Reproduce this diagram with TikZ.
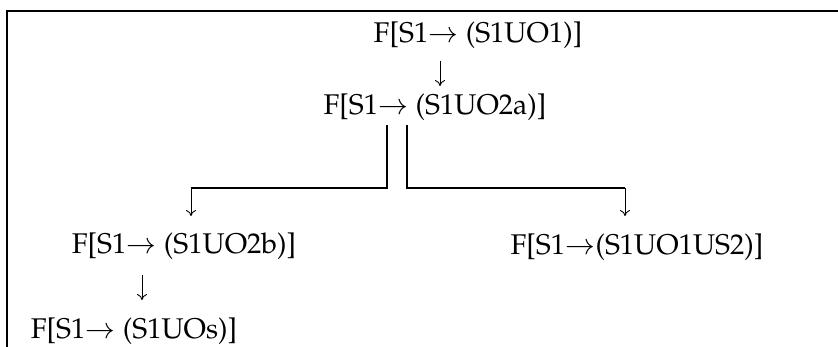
\documentclass[tikz,border=0pt]{standalone}
\usepackage[T1]{fontenc}
\usepackage{mathpazo}
\usetikzlibrary{arrows.meta}
\begin{document}
\begin{tikzpicture}[x=1pt,y=-1pt,
  term/.style={inner sep=0pt,anchor=center,font=\fontsize{28.5}{32}\selectfont},
  frameline/.style={line width=2.2pt},
  branch/.style={line width=1.4pt},
  flow/.style={line width=0.9pt,-{To[length=6pt,width=10pt]}}]
\useasboundingbox (0,0) rectangle (838,347);
% open frame: top and left edges only
\draw[frameline] (7,347) -- (7,11) -- (838,11);
% derivation steps
\node[term] (n1) at (478,35) {F[S1$\rightarrow$ (S1UO1)]};
\node[term] (n2) at (435,107) {F[S1$\rightarrow$ (S1UO2a)]};
\node[term] (n3) at (184,246) {F[S1$\rightarrow$ (S1UO2b)]};
\node[term] (n4) at (637,247) {F[S1$\rightarrow$(S1UO1US2)]};
\node[term] (n5) at (134,331) {F[S1$\rightarrow$ (S1UOs)]};
% arrow end points
\coordinate (a1s) at (440,61);
\coordinate (a1e) at (440,86);
\coordinate (bLs) at (387,125);
\coordinate (bL) at (387,188);
\coordinate (bLc) at (191,188);
\coordinate (bLe) at (191,216);
\coordinate (bRs) at (407,125);
\coordinate (bR) at (407,188);
\coordinate (bRc) at (625,188);
\coordinate (bRe) at (625,216);
\coordinate (a2s) at (142,275);
\coordinate (a2e) at (142,300);
% connectors
\draw[flow] (a1s) -- (a1e);
\draw[branch] (bLs) -- (bL) -- (bLc);
\draw[flow] (bLc) -- (bLe);
\draw[branch] (bRs) -- (bR) -- (bRc);
\draw[flow] (bRc) -- (bRe);
\draw[flow] (a2s) -- (a2e);
\end{tikzpicture}
\end{document}
